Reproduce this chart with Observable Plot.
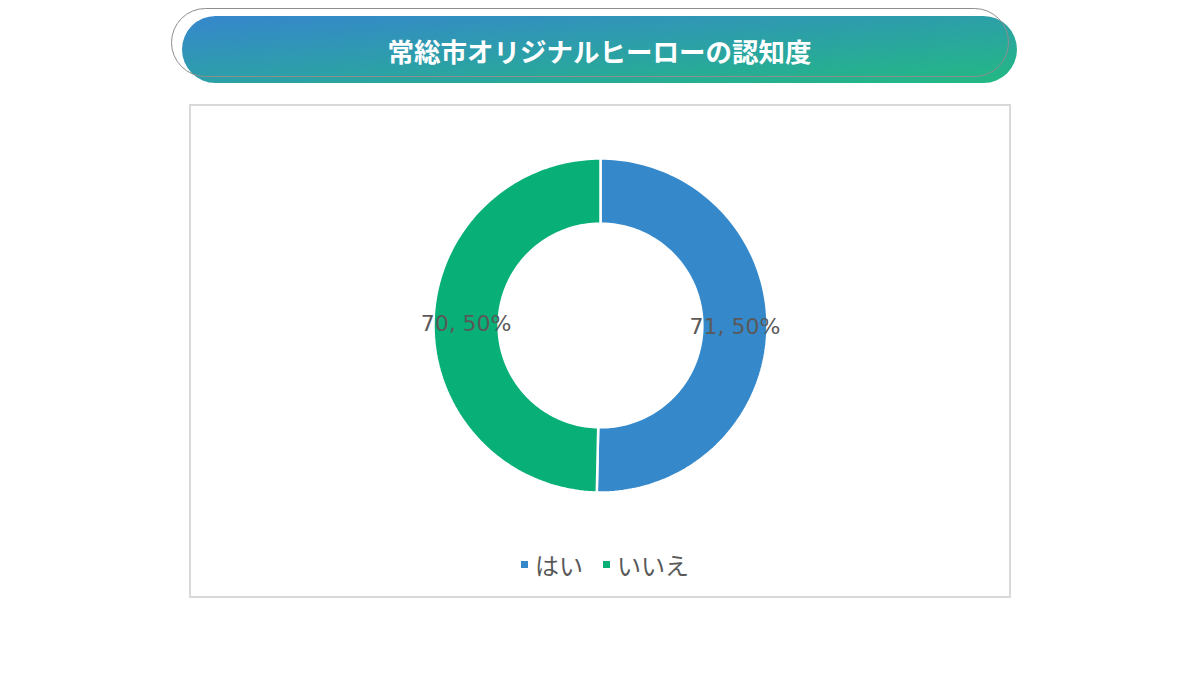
<!DOCTYPE html>
<html><head><meta charset="utf-8">
<script src="https://cdn.jsdelivr.net/npm/d3@7"></script>
<script src="https://cdn.jsdelivr.net/npm/@observablehq/plot@0.6"></script>
<style>
html,body{margin:0;padding:0;background:#fff;}
#wrap{position:relative;width:1200px;height:675px;overflow:hidden;font-family:"Noto Sans CJK JP","Noto Sans",sans-serif;}
#bannerFill{position:absolute;left:182px;top:16px;width:835px;height:67px;border-radius:34px;background:linear-gradient(to bottom right,#3686cd,#22b982);}
#bannerLine{position:absolute;left:171px;top:8px;width:836px;height:67px;border:1px solid #8e8e8e;border-radius:35px;}
#title{position:absolute;left:182px;top:16px;width:835px;height:67px;line-height:67px;text-align:center;color:#fff;font-size:26.5px;font-weight:700;padding-top:1px;box-sizing:border-box;}
#box{position:absolute;left:189px;top:104px;width:818px;height:490px;border:2px solid #d9d9d9;}
#chart{position:absolute;left:0;top:0;}
#legend{position:absolute;left:5px;width:1200px;top:540px;line-height:36px;text-align:center;font-size:24px;color:#595959;}
.item{display:inline-flex;align-items:center;margin:0 10px;}
.sw{display:inline-block;width:7px;height:7px;margin-right:7px;}
</style></head>
<body>
<div id="wrap">
  <div id="bannerFill"></div>
  <div id="bannerLine"></div>
  <div id="title"></div>
  <div id="box"><div id="chart"></div></div>
  <div id="legend"></div>
</div>
<script>
const titleText = "常総市オリジナルヒーローの認知度";
const categories = ["はい", "いいえ"];
const counts = [71, 70];
const colors = ["#3589cb", "#08b077"];

document.getElementById("title").textContent = titleText;

const total = d3.sum(counts);
const pie = d3.pie().sort(null).value(d => d.count)(categories.map((c, i) => ({category: c, count: counts[i]})));
const rOuter = 1, rInner = 0.61, rLabel = 0.805;

// polygon outline of each ring slice in unit coordinates (angle clockwise from top)
const ringPts = [];
for (const s of pie) {
  const n = 120;
  for (let k = 0; k <= n; k++) {
    const a = s.startAngle + (s.endAngle - s.startAngle) * k / n;
    ringPts.push({category: s.data.category, x: rOuter * Math.sin(a), y: rOuter * Math.cos(a)});
  }
  for (let k = n; k >= 0; k--) {
    const a = s.startAngle + (s.endAngle - s.startAngle) * k / n;
    ringPts.push({category: s.data.category, x: rInner * Math.sin(a), y: rInner * Math.cos(a)});
  }
}
const labels = pie.map(s => {
  const a = (s.startAngle + s.endAngle) / 2;
  return {x: rLabel * Math.sin(a), y: rLabel * Math.cos(a),
    text: `${s.data.count}, ${Math.round(s.data.count / total * 100)}%`};
});

const plot = Plot.plot({
  width: 818, height: 490,
  marginLeft: 242, marginRight: 242, marginTop: 52, marginBottom: 104,
  x: {domain: [-1, 1], axis: null},
  y: {domain: [-1, 1], axis: null},
  color: {domain: categories, range: colors},
  style: {fontFamily: "'DejaVu Sans', 'Noto Sans', sans-serif", background: "transparent"},
  marks: [
    Plot.line(ringPts, {x: "x", y: "y", z: "category", fill: "category", stroke: "#fff", strokeWidth: 2.5, curve: "linear-closed"}),
    Plot.text(labels, {x: "x", y: "y", text: "text", fontSize: 22, fill: "#595959"})
  ]
});
document.getElementById("chart").appendChild(plot);

const lg = document.getElementById("legend");
categories.forEach((c, i) => {
  const it = document.createElement("span"); it.className = "item";
  const sw = document.createElement("span"); sw.className = "sw"; sw.style.background = colors[i];
  const tx = document.createElement("span"); tx.textContent = c;
  it.appendChild(sw); it.appendChild(tx); lg.appendChild(it);
});
</script>
</body></html>
